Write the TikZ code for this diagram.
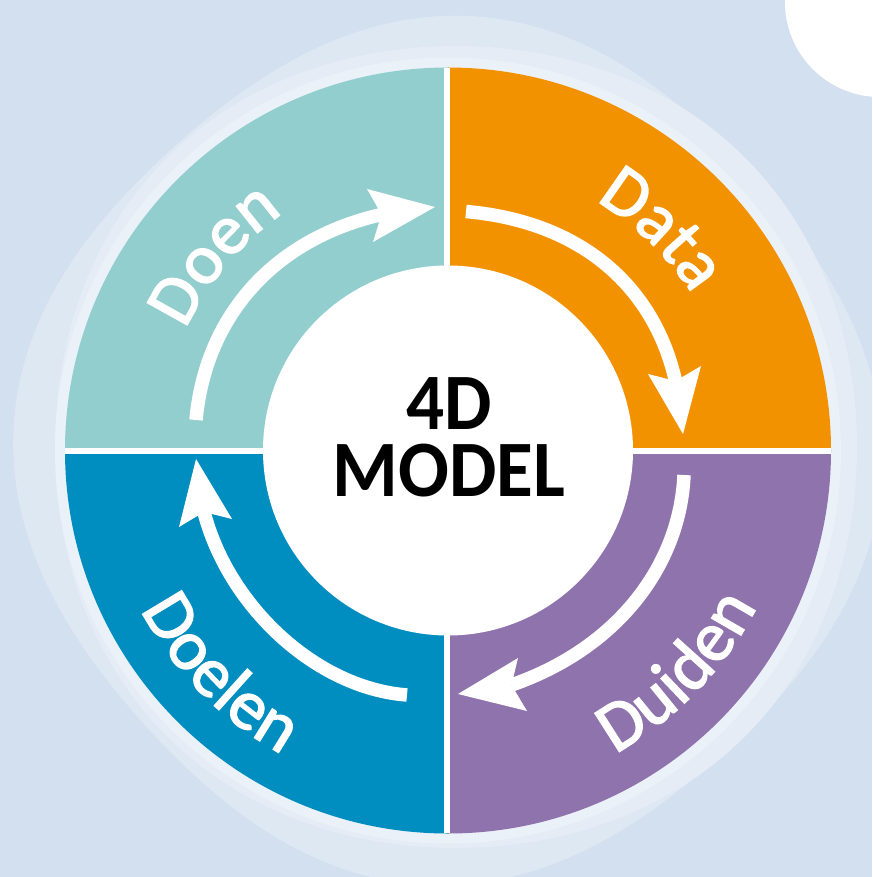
\documentclass[tikz,border=0pt]{standalone}
\usepackage{fontspec}
\setmainfont{Carlito}
\newfontfamily\lblfam[FakeBold=2]{Carlito}
\newfontfamily\ttlfam[FakeStretch=0.94]{Carlito Bold}
\usetikzlibrary{decorations.text}
\definecolor{bgblue}{HTML}{D3E0EF}
\definecolor{haloa}{HTML}{DEE8F2}
\definecolor{halob}{HTML}{E5ECF6}
\definecolor{haloc}{HTML}{EBF1F9}
\definecolor{cteal}{HTML}{93CECE}
\definecolor{corange}{HTML}{F39200}
\definecolor{cpurple}{HTML}{8F73AD}
\definecolor{cblue}{HTML}{008DBF}
\newcommand{\lblfont}{\lblfam\fontsize{71pt}{71pt}\selectfont}
\tikzset{
  x=1pt,y=1pt,
  shaft/.style={draw=white,line width=13.5pt},
  head/.style={fill=white,draw=none},
  sep/.style={draw=white},
  lbl/.style={decorate,decoration={text along path,text align=center,text color=white,
     text={|\lblfont|#1}}},
}
\begin{document}
\begin{tikzpicture}
\useasboundingbox (0,0) rectangle (872,-877);
\clip (0,0) rectangle (872,-877);
\fill[bgblue] (0,0) rectangle (872,-877);
\fill[white] (880,-2) circle (95);
\coordinate (c) at (448,-450.5);
% halos
\fill[haloa,shift={(448,-450.5)}] plot[domain=0:357,samples=120,smooth cycle] (\x:{422+13*cos(4*(\x+3))});
\fill[halob,shift={(456,-447)}] plot[domain=0:357,samples=120,smooth cycle] (\x:{405-4*cos(4*\x)});
\fill[haloc] (c) circle (393);
% sectors
\fill[corange] (c) -- ++(0:383) arc (0:90:383) -- cycle;
\fill[cteal] (c) -- ++(90:383) arc (90:180:383) -- cycle;
\fill[cblue] (c) -- ++(180:383) arc (180:270:383) -- cycle;
\fill[cpurple] (c) -- ++(270:383) arc (270:360:383) -- cycle;
\draw[sep,line width=5.4pt] (447,-68) -- (447,-833);
\draw[sep,line width=5.6pt] (65,-451.2) -- (831,-451.2);
\node[circle,fill=white,minimum size=370pt,inner sep=0pt] (hub) at (c) {};
\node[font=\ttlfam\fontsize{80pt}{67pt}\selectfont,align=center,text=black] (title) at (449,-437) {4D\\MODEL};
% labels
\path[lbl={Doen}] ([shift={(185:289)}]c) arc (185:95:289);
\path[lbl={Data}] ([shift={(91:290)}]c) arc (91:1:290);
\path[lbl={Duiden}] ([shift={(-89:346)}]c) arc (-89:1:346);
\path[lbl={Doelen}] ([shift={(179.4:346)}]c) arc (179.4:269.4:346);
% arrows
\coordinate (s1) at (196,-420); \coordinate (e1) at (381.5,-214.5);
\draw[shaft] (s1) .. controls (205,-320) and (270,-240) .. (e1);
\fill[head] (435,-207) -- (367,-189) -- (e1) -- (373,-242) -- cycle;
\coordinate (s2) at (466,-211.5); \coordinate (e2) at (675.5,-381);
\draw[shaft] (s2) .. controls (585,-222) and (655,-290) .. (e2);
\fill[head] (683,-434) -- (701,-366) -- (e2) -- (648,-374) -- cycle;
\coordinate (s3) at (684,-475); \coordinate (e3) at (511.5,-685);
\draw[shaft] (s3) .. controls (680,-565) and (618,-648) .. (e3);
\fill[head] (458,-694) -- (527,-711) -- (e3) -- (518,-658) -- cycle;
\coordinate (s4) at (407,-695); \coordinate (e4) at (204,-512);
\draw[shaft] (s4) .. controls (315,-688) and (228,-605) .. (e4);
\fill[head] (196,-459) -- (179,-527) -- (e4) -- (232,-519) -- cycle;
\end{tikzpicture}
\end{document}
